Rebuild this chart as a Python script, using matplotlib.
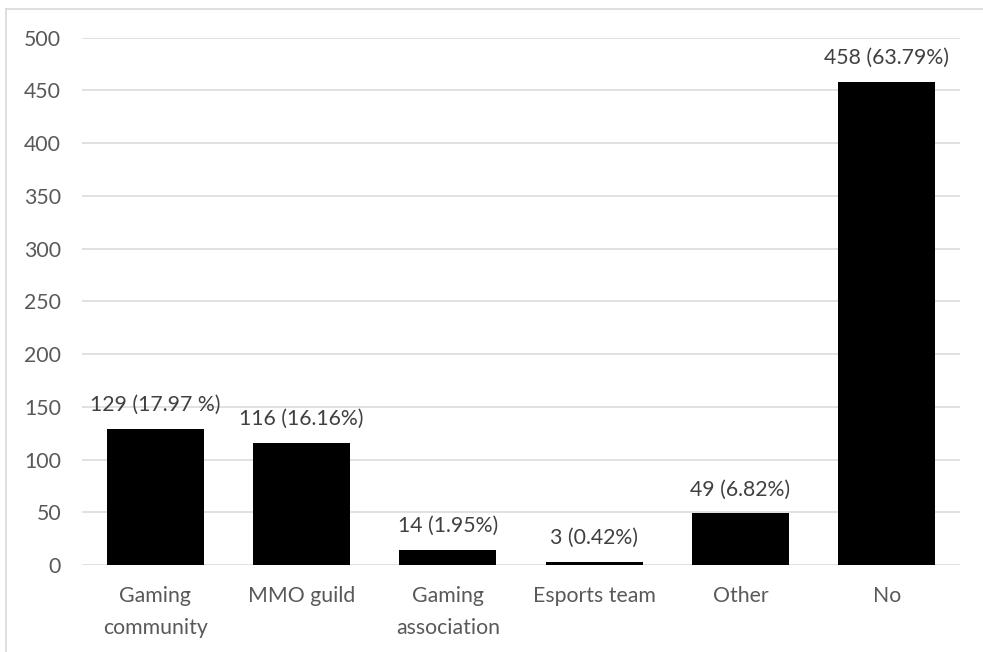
import matplotlib
matplotlib.use("Agg")
import matplotlib.pyplot as plt
from matplotlib.lines import Line2D

categories = ["Gaming\ncommunity", "MMO guild", "Gaming\nassociation",
              "Esports team", "Other", "No"]
counts = [129, 116, 14, 3, 49, 458]
value_labels = ["129 (17.97 %)", "116 (16.16%)", "14 (1.95%)",
                "3 (0.42%)", "49 (6.82%)", "458 (63.79%)"]
y_ticks = [0, 50, 100, 150, 200, 250, 300, 350, 400, 450, 500]

plt.rcParams["font.family"] = ["Lato", "DejaVu Sans"]
FS = 15.3

W, H = 983, 652
fig = plt.figure(figsize=(W / 100, H / 100), dpi=100)
ax = fig.add_axes([82 / W, (H - 565) / H, (960 - 82) / W, (565 - 37.7) / H])

x = list(range(len(categories)))
ax.bar(x, counts, width=0.665, color="black", zorder=3)

ax.set_xlim(-0.5, len(categories) - 0.5)
ax.set_ylim(0, 500)
ax.set_yticks(y_ticks)
ax.set_yticklabels([str(t) for t in y_ticks])
ax.set_xticks(x)
ax.set_xticklabels(categories, linespacing=1.75)

ax.grid(axis="y", color="#d9d9d9", linewidth=1.1, zorder=0)
ax.set_axisbelow(True)
for side in ["top", "right", "left", "bottom"]:
    ax.spines[side].set_visible(False)
ax.tick_params(axis="both", length=0, labelsize=FS, labelcolor="#595959")
ax.tick_params(axis="y", pad=15)
ax.tick_params(axis="x", pad=15)

for xi, c, lab in zip(x, counts, value_labels):
    ax.annotate(lab, (xi, c), xytext=(0, 10), textcoords="offset points",
                ha="center", va="bottom", fontsize=FS, color="#404040")

# chart frame edges
fig.add_artist(Line2D([5.5 / W, 5.5 / W], [0, (H - 8.5) / H],
                      transform=fig.transFigure, color="#d9d9d9", linewidth=1.2))
fig.add_artist(Line2D([5.5 / W, 1], [(H - 8.5) / H, (H - 8.5) / H],
                      transform=fig.transFigure, color="#d9d9d9", linewidth=1.2))

fig.savefig("out.png", dpi=100, facecolor="white")
